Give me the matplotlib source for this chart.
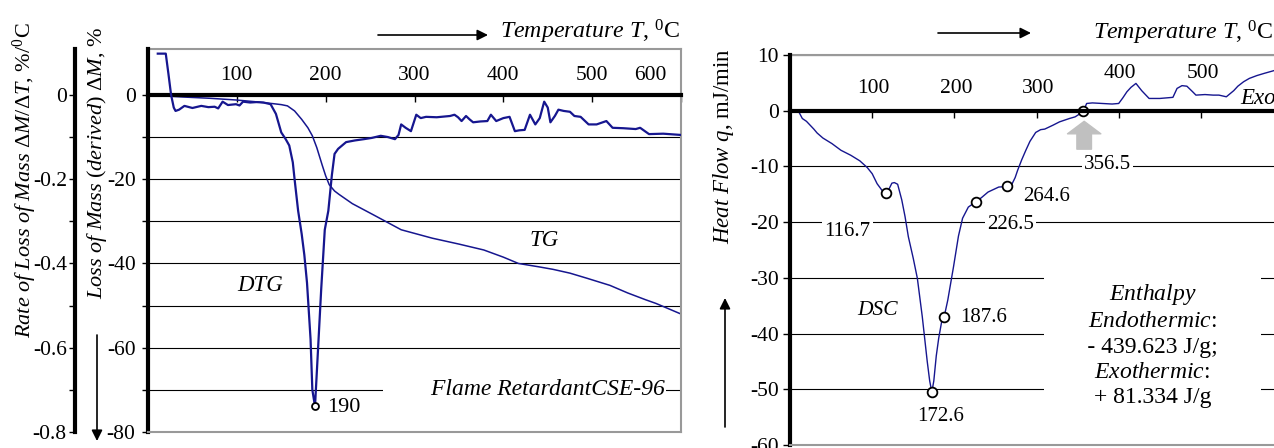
import numpy as np
import matplotlib
matplotlib.use('Agg')
import matplotlib.pyplot as plt
from matplotlib.lines import Line2D

plt.rcParams['font.family'] = ['Liberation Serif', 'DejaVu Serif']
plt.rcParams['mathtext.fontset'] = 'custom'
plt.rcParams['mathtext.rm'] = 'Liberation Serif'
plt.rcParams['mathtext.it'] = 'Liberation Serif:italic'
plt.rcParams['axes.unicode_minus'] = False

# ---- left chart: TG (mass loss, %) and DTG (rate, %/degC) ----
tg_T = [5, 14, 40, 70, 99, 120, 142, 150, 157, 165, 173, 180, 185, 190, 196, 200, 204,
        210, 215, 230, 255, 285, 320, 350, 378, 400, 417, 440, 456, 475, 494, 520, 540,
        560, 572, 600]
tg_M = [0, -0.2, -0.5, -0.8, -1.2, -1.6, -2.1, -2.3, -2.6, -3.8, -5.8, -7.8, -9.7, -12.5,
        -16.6, -19.2, -21.3, -22.8, -23.6, -25.8, -28.6, -32, -34, -35.4, -36.8, -38.5, -40,
        -40.8, -41.4, -42.3, -43.5, -45.2, -47, -48.6, -49.5, -52.0]

dtg_T = [11, 20, 23, 26, 29, 31, 35, 41, 50, 60, 68, 75, 79, 84, 90, 99, 103, 107, 115, 122,
         130, 138, 144, 150, 155, 159, 163, 165, 169, 173, 176, 179, 183, 185, 188, 191, 195,
         199, 203, 207, 210, 214, 223, 233, 243, 252, 262, 270, 278, 282, 285, 290, 296, 302,
         307, 313, 325, 340, 345, 349, 353, 358, 362, 366, 374, 382, 386, 392, 400, 407, 413,
         418, 424, 430, 436, 441, 446, 450, 453, 458, 462, 468, 475, 480, 487, 496, 505, 516,
         523, 535, 549, 554, 564, 580, 600]
dtg_R = [0.098, 0.098, 0.05, 0.0, -0.03, -0.038, -0.035, -0.026, -0.031, -0.026, -0.029,
         -0.028, -0.032, -0.016, -0.024, -0.022, -0.025, -0.016, -0.018, -0.017, -0.018,
         -0.022, -0.045, -0.089, -0.105, -0.12, -0.16, -0.2, -0.275, -0.33, -0.38, -0.446,
         -0.58, -0.70, -0.739, -0.62, -0.46, -0.32, -0.275, -0.19, -0.14, -0.128, -0.112,
         -0.108, -0.105, -0.102, -0.097, -0.10, -0.105, -0.095, -0.07, -0.078, -0.086,
         -0.047, -0.055, -0.052, -0.053, -0.05, -0.047, -0.053, -0.062, -0.05, -0.058,
         -0.065, -0.063, -0.062, -0.047, -0.062, -0.055, -0.052, -0.086, -0.084, -0.083,
         -0.047, -0.07, -0.055, -0.016, -0.03, -0.065, -0.05, -0.035, -0.038, -0.04, -0.05,
         -0.052, -0.07, -0.07, -0.062, -0.078, -0.079, -0.081, -0.078, -0.093, -0.092,
         -0.095]
dtg_peak_T, dtg_peak_R, dtg_peak_label = 188, -0.739, '190'

left_xticks = [100, 200, 300, 400, 500, 600]
mass_ticks = [0, -20, -40, -60, -80]
mass_minor = [-10, -30, -50, -70]
rate_ticks = [0, -0.2, -0.4, -0.6, -0.8]
rate_labels = ['0', '-0.2', '-0.4', '-0.6', '-0.8']
rate_minor = [-0.1, -0.3, -0.5, -0.7]

# ---- right chart: DSC heat flow, mJ/min ----
dsc_T = [10, 15, 20, 29, 33, 40, 51, 62, 74, 85, 94, 100, 106, 112, 116.7, 120, 124, 127,
         131, 136, 140, 144, 150, 155, 161, 167, 170, 172.6, 175, 178, 181, 185, 187.6, 192,
         199, 205, 210, 217, 226.5, 233, 241, 254, 264.6, 270, 274, 277, 282, 287, 292, 299,
         305, 310, 320, 328, 340, 347, 356.5, 359, 361, 368, 380, 392, 400, 405, 410, 415,
         421, 428, 437, 450, 466, 471, 477, 483, 490, 494, 505, 515, 522, 531, 540, 545, 552,
         559, 568, 577, 589]
dsc_q = [0, -1.4, -1.9, -3.3, -4.0, -4.9, -5.9, -7.1, -8.0, -9.0, -10.2, -11.3, -13.1,
         -14.3, -14.8, -14.2, -13.0, -12.9, -13.2, -16, -19, -22.6, -26.5, -30.1, -37, -45,
         -48.5, -50.5, -48.5, -44, -40.8, -37.5, -37, -34, -28, -22.5, -19.3, -17.3, -16.3,
         -15.6, -14.6, -13.7, -13.6, -13.2, -12.0, -10.7, -8.8, -7.1, -5.5, -3.9, -3.4, -3.3,
         -2.6, -2, -1.4, -1.1, -0.2, 0.6, 1.3, 1.4, 1.3, 1.2, 1.3, 2.3, 3.4, 4.2, 4.9, 3.6,
         2.2, 2.2, 2.4, 4.0, 4.5, 4.4, 3.4, 2.8, 2.9, 2.8, 2.8, 2.5, 3.6, 4.4, 5.2, 5.8, 6.3,
         6.7, 7.2]
dsc_points_T = [116.7, 172.6, 187.6, 226.5, 264.6, 356.5]
dsc_points_q = [-14.8, -50.5, -37.0, -16.3, -13.6, 0.0]
right_xticks = [100, 200, 300, 400, 500]
heat_ticks = [10, 0, -10, -20, -30, -40, -50, -60]

W, H = 1274, 448
navy = '#16168f'
grey = '#999999'


def fx(x):
    return x / W


def fy(y):
    return 1 - y / H


fig = plt.figure(figsize=(W / 100, H / 100), dpi=100)

# ================= left chart =================
ax = fig.add_axes([fx(148), fy(432), (681 - 148) / W, (432 - 49) / H])
ax.set_xlim(0, 600)
ax.set_ylim(-80, 10.9)
ax.set_yticks(mass_ticks, [str(v) for v in mass_ticks])
ax.set_yticks(mass_minor, minor=True)
ax.yaxis.grid(True, which='both', color='k', lw=0.8)
ax.tick_params(axis='y', which='both', direction='out', length=4, width=1,
               labelsize=15.5, pad=5)
ax.spines['left'].set_linewidth(3)
ax.spines['top'].set_position(('data', 0))
ax.spines['top'].set_linewidth(3)
ax.spines['bottom'].set_color(grey)
ax.spines['bottom'].set_linewidth(1.5)
ax.spines['right'].set_color(grey)
ax.spines['right'].set_linewidth(1.5)
ax.xaxis.set_ticks_position('top')
ax.set_xticks(left_xticks)
ax.tick_params(axis='x', direction='in', length=5, width=1, labeltop=False)
ax.add_line(Line2D([0, 1], [1, 1], transform=ax.transAxes, color=grey, lw=1.5,
                   clip_on=False))
for t in left_xticks:
    dx = -34 if t == left_xticks[-1] else 0
    ax.text(t + dx, 4.5, str(t), ha='center', va='center', fontsize=15.5)

ax.plot(tg_T, tg_M, color=navy, lw=1.1)
ax.text(446, -34.5, 'TG', style='italic', fontsize=16.5, ha='center', va='center')
ax.text(126, -45.3, 'DTG', style='italic', fontsize=16.5, ha='center', va='center')
ax.text(582, -70, '        Flame RetardantCSE-96', style='italic', fontsize=17,
        ha='right', va='center',
        bbox=dict(boxstyle='square,pad=0.05', fc='white', ec='none'))

# rate axis (DTG), same scale x100, spine pushed to the left
axd = ax.twinx()
axd.set_ylim(-0.8, 0.109)
axd.yaxis.set_ticks_position('left')
axd.yaxis.set_label_position('left')
axd.spines['left'].set_position(('outward', 52.5))
axd.spines['left'].set_linewidth(3)
for s in ['right', 'top', 'bottom']:
    axd.spines[s].set_visible(False)
axd.set_yticks(rate_ticks, rate_labels)
axd.set_yticks(rate_minor, minor=True)
axd.tick_params(axis='y', which='both', direction='out', length=4, width=1,
                labelsize=15.5, pad=2)
axd.plot(dtg_T, dtg_R, color=navy, lw=1.6)
axd.plot(dtg_peak_T, dtg_peak_R, 'o', ms=5, mfc='white', mec='k', mew=1.3)
axd.text(dtg_peak_T + 14, dtg_peak_R - 0.003, dtg_peak_label, fontsize=16,
         ha='left', va='center')

fig.text(fx(25), fy(180), r'$\mathit{Rate\ of\ Loss\ of\ Mass\ ΔM/ΔT}$, %/$^{0}$C',
         rotation=90, ha='center', va='center', fontsize=16)
fig.text(fx(97), fy(163), r'$\mathit{Loss\ of\ Mass\ (derived)\ ΔM}$, %',
         rotation=90, ha='center', va='center', fontsize=16)
fig.text(fx(500), fy(32), r'$\mathit{Temperature\ T}$, $^{0}$C', ha='left', va='center',
         fontsize=17.2)
arrow = dict(arrowstyle='-|>', color='k', lw=1.2, mutation_scale=16, shrinkA=0, shrinkB=0)
ax.annotate('', xy=(fx(488), fy(35)), xytext=(fx(378), fy(35)),
            xycoords='figure fraction', textcoords='figure fraction', arrowprops=arrow)
ax.annotate('', xy=(fx(97), fy(441)), xytext=(fx(97), fy(335)),
            xycoords='figure fraction', textcoords='figure fraction', arrowprops=arrow,
            annotation_clip=False)

# ================= right chart =================
axr = fig.add_axes([fx(790), fy(445), (1274 - 790) / W, (445 - 55) / H])
axr.set_xlim(0, 589)
axr.set_ylim(-60, 10)
axr.set_yticks(heat_ticks, [str(v) for v in heat_ticks])
axr.yaxis.grid(True, color='k', lw=0.8)
axr.tick_params(axis='y', direction='out', length=5, width=1, labelsize=15.5, pad=3)
axr.spines['left'].set_linewidth(3)
axr.spines['top'].set_position(('data', 0))
axr.spines['top'].set_linewidth(3)
axr.spines['bottom'].set_color(grey)
axr.spines['bottom'].set_linewidth(1.5)
axr.spines['right'].set_visible(False)
axr.xaxis.set_ticks_position('top')
axr.set_xticks(right_xticks)
axr.tick_params(axis='x', direction='in', length=5, width=1, labeltop=False)
axr.add_line(Line2D([0, 1], [1, 1], transform=axr.transAxes, color=grey, lw=1.5,
                    clip_on=False))
for t in right_xticks:
    axr.text(t + 2, 6.7 if t >= 400 else 4.0, str(t), ha='center', va='center',
             fontsize=15.5)

axr.plot(dsc_T, dsc_q, color=navy, lw=1.0)
axr.plot(dsc_points_T, dsc_points_q, 'o', ms=7, mfc='white', mec='k', mew=1.3)

white = dict(boxstyle='square,pad=0.1', fc='white', ec='none')
num_pos = {116.7: (70, -21.7), 172.6: (183, -54.8), 187.6: (236, -37.1),
           226.5: (268.5, -20.4), 264.6: (312, -15.4), 356.5: (386, -9.6)}
for t in dsc_points_T:
    x, y = num_pos[t]
    axr.text(x, y, f'{t:.1f}', ha='center', va='center', fontsize=15, bbox=white)
axr.text(107, -35.8, 'DSC', style='italic', fontsize=15.5, ha='center', va='center')
axr.text(441, -42.1,
         '$\\mathit{Enthalpy}$\n$\\mathit{Endothermic}$:\n'
         '     - 439.623 J/g;     \n'
         '$\\mathit{Exothermic}$:\n+ 81.334 J/g',
         ha='center', va='center', fontsize=17, linespacing=1.27, multialignment='center',
         bbox=dict(boxstyle='square,pad=0.6', fc='white', ec='none'))
axr.text(548, 2.2, 'Exothermic', style='italic', fontsize=16.5, ha='left', va='center')
axr.annotate('', xy=(358, -1.9), xytext=(358, -6.9),
             arrowprops=dict(arrowstyle='simple,head_length=0.6,head_width=1.6,tail_width=0.7',
                             color='#c0c0c0', mutation_scale=15, shrinkA=0, shrinkB=0))

fig.text(fx(723), fy(146), r'$\mathit{Heat\ Flow\ q}$, mJ/min', rotation=90,
         ha='center', va='center', fontsize=16.5)
fig.text(fx(1093), fy(33), r'$\mathit{Temperature\ T}$, $^{0}$C', ha='left', va='center',
         fontsize=17.2)
axr.annotate('', xy=(fx(1031), fy(33)), xytext=(fx(938), fy(33)),
             xycoords='figure fraction', textcoords='figure fraction', arrowprops=arrow)
axr.annotate('', xy=(fx(725), fy(298)), xytext=(fx(725), fy(427)),
             xycoords='figure fraction', textcoords='figure fraction', arrowprops=arrow,
             annotation_clip=False)

fig.savefig('out.png', dpi=100)
